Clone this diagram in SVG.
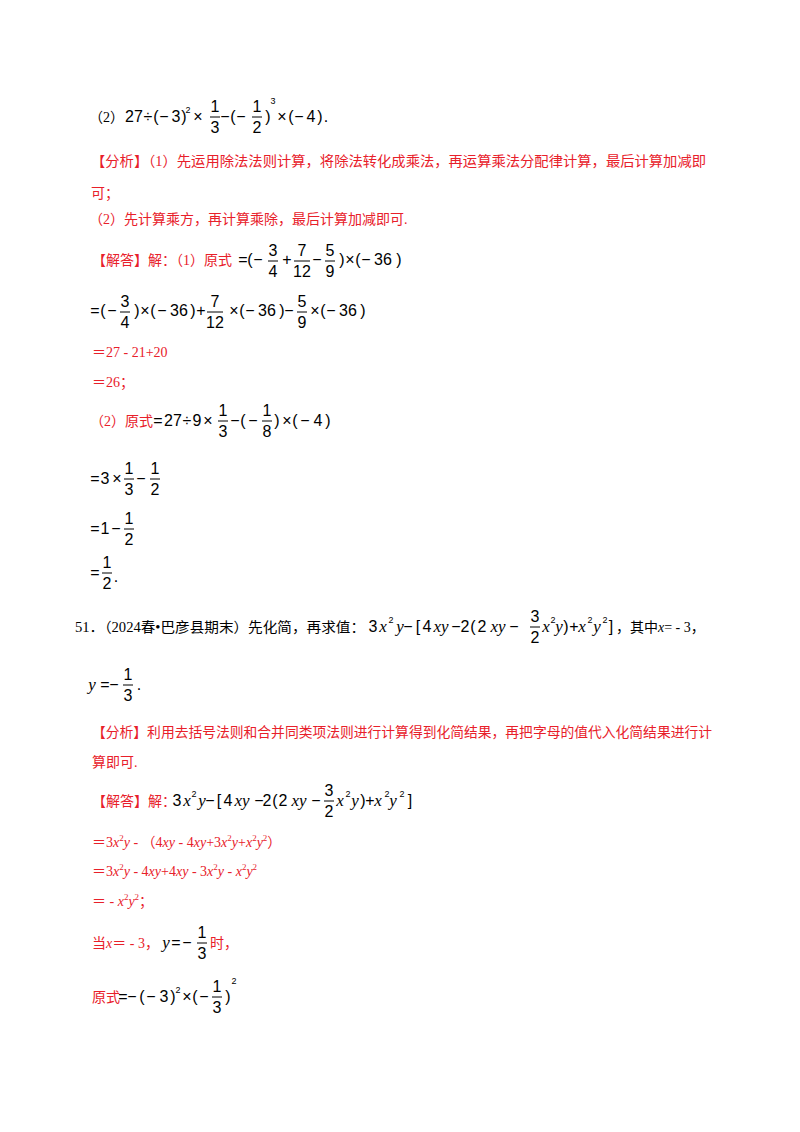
<svg xmlns="http://www.w3.org/2000/svg" width="800" height="1132" viewBox="0 0 800 1132">
<style>
text{font-family:"Liberation Serif","Noto Sans CJK SC",serif;font-size:14px;fill:#000}
.r{fill:#e8202a}
.c{font-family:"Liberation Sans",sans-serif;font-size:16px;text-anchor:middle}
.s{font-family:"Liberation Sans",sans-serif;font-size:9px;text-anchor:middle}
.i{font-family:"Liberation Serif",serif;font-style:italic;font-size:17px;text-anchor:middle}
line{stroke:#000;stroke-width:1}
</style>
<rect width="800" height="1132" fill="#fff"/>
<g id="line1">
<text x="89" y="122">（2）</text>
<text class="c" x="134" y="122">27</text><text class="c" x="148" y="122">÷</text><text class="c" x="156" y="122">(</text><text class="c" x="164" y="122">−</text><text class="c" x="176" y="122">3</text><text class="c" x="184" y="122">)</text><text class="s" x="188" y="113">2</text><text class="c" x="198" y="122">×</text>
<text class="c" x="215" y="112">1</text><line x1="210" y1="117" x2="220" y2="117"/><text class="c" x="215" y="133">3</text>
<text class="c" x="225" y="122">−</text><text class="c" x="233" y="122">(</text><text class="c" x="241" y="122">−</text>
<text class="c" x="257" y="112">1</text><line x1="252" y1="117" x2="262" y2="117"/><text class="c" x="257" y="133">2</text>
<text class="c" x="268" y="122">)</text><text class="s" x="273" y="104">3</text><text class="c" x="282" y="122">×</text><text class="c" x="291" y="122">(</text><text class="c" x="299" y="122">−</text><text class="c" x="311" y="122">4</text><text class="c" x="320" y="122">)</text><text class="c" x="326" y="122">.</text>
</g>
<g id="analysis1">
<text class="r" x="91" y="166" textLength="615" lengthAdjust="spacingAndGlyphs">【分析】（1）先运用除法法则计算，将除法转化成乘法，再运算乘法分配律计算，最后计算加减即</text>
<text class="r" x="91" y="198">可；</text>
<text class="r" x="89" y="224">（2）先计算乘方，再计算乘除，最后计算加减即可.</text>
</g>
<g id="sol1">
<text class="r" x="92" y="265">【解答】解：（1）原式</text>
<text class="c" x="243" y="265">=</text><text class="c" x="250" y="265">(</text><text class="c" x="258" y="265">−</text>
<text class="c" x="273" y="256">3</text><line x1="268" y1="261" x2="278" y2="261"/><text class="c" x="273" y="277">4</text>
<text class="c" x="287" y="265">+</text>
<text class="c" x="302" y="256">7</text><line x1="294" y1="261" x2="310" y2="261"/><text class="c" x="302" y="277">12</text>
<text class="c" x="317" y="265">−</text>
<text class="c" x="330" y="256">5</text><line x1="325" y1="261" x2="335" y2="261"/><text class="c" x="330" y="277">9</text>
<text class="c" x="342" y="265">)</text><text class="c" x="350" y="265">×</text><text class="c" x="358" y="265">(</text><text class="c" x="366" y="265">−</text><text class="c" x="383" y="265">36</text><text class="c" x="399" y="265">)</text>

<text class="c" x="95" y="316">=</text><text class="c" x="103" y="316">(</text><text class="c" x="112" y="316">−</text>
<text class="c" x="125" y="307">3</text><line x1="120" y1="312" x2="130" y2="312"/><text class="c" x="125" y="328">4</text>
<text class="c" x="137" y="316">)</text><text class="c" x="145" y="316">×</text><text class="c" x="153" y="316">(</text><text class="c" x="162" y="316">−</text><text class="c" x="179" y="316">36</text><text class="c" x="193" y="316">)</text><text class="c" x="201" y="316">+</text>
<text class="c" x="215" y="307">7</text><line x1="207" y1="312" x2="223" y2="312"/><text class="c" x="215" y="328">12</text>
<text class="c" x="234" y="316">×</text><text class="c" x="242" y="316">(</text><text class="c" x="250" y="316">−</text><text class="c" x="267" y="316">36</text><text class="c" x="282" y="316">)</text><text class="c" x="289" y="316">−</text>
<text class="c" x="302" y="307">5</text><line x1="297" y1="312" x2="307" y2="312"/><text class="c" x="302" y="328">9</text>
<text class="c" x="315" y="316">×</text><text class="c" x="323" y="316">(</text><text class="c" x="331" y="316">−</text><text class="c" x="348" y="316">36</text><text class="c" x="363" y="316">)</text>
<text class="r" x="92" y="357">＝27 - 21+20</text>
<text class="r" x="92" y="387">＝26；</text>
</g>
<g id="sol2">
<text class="r" x="90" y="426">（2）原式</text>
<text class="c" x="158" y="426">=</text><text class="c" x="173" y="426">27</text><text class="c" x="187" y="426">÷</text><text class="c" x="197" y="426">9</text><text class="c" x="208" y="426">×</text>
<text class="c" x="223" y="416">1</text><line x1="218" y1="421" x2="228" y2="421"/><text class="c" x="223" y="437">3</text>
<text class="c" x="235" y="426">−</text><text class="c" x="243" y="426">(</text><text class="c" x="253" y="426">−</text>
<text class="c" x="267" y="416">1</text><line x1="262" y1="421" x2="272" y2="421"/><text class="c" x="267" y="437">8</text>
<text class="c" x="277" y="426">)</text><text class="c" x="287" y="426">×</text><text class="c" x="295" y="426">(</text><text class="c" x="305" y="426">−</text><text class="c" x="318" y="426">4</text><text class="c" x="328" y="426">)</text>

<text class="c" x="95" y="484">=</text><text class="c" x="105" y="484">3</text><text class="c" x="117" y="484">×</text>
<text class="c" x="129" y="474">1</text><line x1="124" y1="479" x2="134" y2="479"/><text class="c" x="129" y="495">3</text>
<text class="c" x="141" y="484">−</text>
<text class="c" x="155" y="474">1</text><line x1="150" y1="479" x2="160" y2="479"/><text class="c" x="155" y="495">2</text>

<text class="c" x="95" y="534">=</text><text class="c" x="105" y="534">1</text><text class="c" x="116" y="534">−</text>
<text class="c" x="129" y="524">1</text><line x1="124" y1="529" x2="134" y2="529"/><text class="c" x="129" y="545">2</text>

<text class="c" x="95" y="578">=</text>
<text class="c" x="107" y="568">1</text><line x1="102" y1="573" x2="112" y2="573"/><text class="c" x="107" y="589">2</text>
<text class="c" x="116" y="582">.</text>
</g>
<g id="q51">
<text x="75" y="632" textLength="290" lengthAdjust="spacingAndGlyphs">51．（2024春•巴彦县期末）先化简，再求值：</text>
<text class="c" x="373" y="632">3</text><text class="i" x="383" y="632">x</text><text class="s" x="391" y="623">2</text><text class="i" x="400" y="632">y</text><text class="c" x="408" y="632">−</text><text class="c" x="418" y="632">[</text><text class="c" x="427" y="632">4</text><text class="i" x="441" y="632">xy</text><text class="c" x="456" y="632">−</text><text class="c" x="465" y="632">2</text><text class="c" x="473" y="632">(</text><text class="c" x="482" y="632">2</text><text class="i" x="498" y="632">xy</text><text class="c" x="514" y="632">−</text>
<text class="c" x="535" y="622">3</text><line x1="530" y1="627" x2="540" y2="627"/><text class="c" x="535" y="643">2</text>
<text class="i" x="546" y="632">x</text><text class="s" x="553" y="623">2</text><text class="i" x="559" y="632">y</text><text class="c" x="566" y="632">)</text><text class="c" x="574" y="632">+</text><text class="i" x="582" y="632">x</text><text class="s" x="590" y="623">2</text><text class="i" x="597" y="632">y</text><text class="s" x="605" y="623">2</text><text class="c" x="611" y="632">]</text>
<text x="616" y="632">，其中<tspan font-style="italic">x</tspan>= - 3，</text>
<text class="i" x="92" y="690">y</text><text class="c" x="105" y="690">=</text><text class="c" x="114" y="690">−</text>
<text class="c" x="128" y="680">1</text><line x1="123" y1="685" x2="133" y2="685"/><text class="c" x="128" y="701">3</text>
<text class="c" x="139" y="690">.</text>
</g>
<g id="analysis51">
<text class="r" x="92" y="737" textLength="620" lengthAdjust="spacingAndGlyphs">【分析】利用去括号法则和合并同类项法则进行计算得到化简结果，再把字母的值代入化简结果进行计</text>
<text class="r" x="92" y="767">算即可.</text>
</g>
<g id="sol51">
<text class="r" x="92" y="806">【解答】解：</text>
<text class="c" x="177" y="806">3</text><text class="i" x="187" y="806">x</text><text class="s" x="194" y="797">2</text><text class="i" x="202" y="806">y</text><text class="c" x="210" y="806">−</text><text class="c" x="219" y="806">[</text><text class="c" x="228" y="806">4</text><text class="i" x="242" y="806">xy</text><text class="c" x="259" y="806">−</text><text class="c" x="267" y="806">2</text><text class="c" x="275" y="806">(</text><text class="c" x="283" y="806">2</text><text class="i" x="299" y="806">xy</text><text class="c" x="316" y="806">−</text>
<text class="c" x="329" y="796">3</text><line x1="324" y1="801" x2="334" y2="801"/><text class="c" x="329" y="817">2</text>
<text class="i" x="340" y="806">x</text><text class="s" x="348" y="797">2</text><text class="i" x="355" y="806">y</text><text class="c" x="363" y="806">)</text><text class="c" x="370" y="806">+</text><text class="i" x="378" y="806">x</text><text class="s" x="387" y="797">2</text><text class="i" x="393" y="806">y</text><text class="s" x="402" y="797">2</text><text class="c" x="410" y="806">]</text>
<text class="r" x="92" y="847">＝3<tspan font-style="italic">x</tspan><tspan font-size="9" dy="-6">2</tspan><tspan font-style="italic" dy="6">y</tspan> - （4<tspan font-style="italic">xy</tspan> - 4<tspan font-style="italic">xy</tspan>+3<tspan font-style="italic">x</tspan><tspan font-size="9" dy="-6">2</tspan><tspan font-style="italic" dy="6">y</tspan>+<tspan font-style="italic">x</tspan><tspan font-size="9" dy="-6">2</tspan><tspan font-style="italic" dy="6">y</tspan><tspan font-size="9" dy="-6">2</tspan><tspan dy="6">）</tspan></text>
<text class="r" x="92" y="876">＝3<tspan font-style="italic">x</tspan><tspan font-size="9" dy="-6">2</tspan><tspan font-style="italic" dy="6">y</tspan> - 4<tspan font-style="italic">xy</tspan>+4<tspan font-style="italic">xy</tspan> - 3<tspan font-style="italic">x</tspan><tspan font-size="9" dy="-6">2</tspan><tspan font-style="italic" dy="6">y</tspan> - <tspan font-style="italic">x</tspan><tspan font-size="9" dy="-6">2</tspan><tspan font-style="italic" dy="6">y</tspan><tspan font-size="9" dy="-6">2</tspan></text>
<text class="r" x="92" y="906">＝ - <tspan font-style="italic">x</tspan><tspan font-size="9" dy="-6">2</tspan><tspan font-style="italic" dy="6">y</tspan><tspan font-size="9" dy="-6">2</tspan><tspan dy="6">；</tspan></text>
<text class="r" x="92" y="948">当<tspan font-style="italic">x</tspan>＝ - 3，</text>
<text class="i" x="166" y="948">y</text><text class="c" x="176" y="948">=</text><text class="c" x="187" y="948">−</text>
<text class="c" x="202" y="938">1</text><line x1="197" y1="943" x2="207" y2="943"/><text class="c" x="202" y="959">3</text>
<text class="r" x="210" y="948">时，</text>
<text class="r" x="92" y="1002">原式</text>
<text class="c" x="123" y="1002">=</text><text class="c" x="132" y="1002">−</text><text class="c" x="142" y="1002">(</text><text class="c" x="151" y="1002">−</text><text class="c" x="164" y="1002">3</text><text class="c" x="173" y="1002">)</text><text class="s" x="178" y="993">2</text><text class="c" x="187" y="1002">×</text><text class="c" x="195" y="1002">(</text><text class="c" x="204" y="1002">−</text>
<text class="c" x="217" y="992">1</text><line x1="212" y1="997" x2="222" y2="997"/><text class="c" x="217" y="1013">3</text>
<text class="c" x="228" y="1002">)</text><text class="s" x="234" y="984">2</text>
</g>
</svg>
